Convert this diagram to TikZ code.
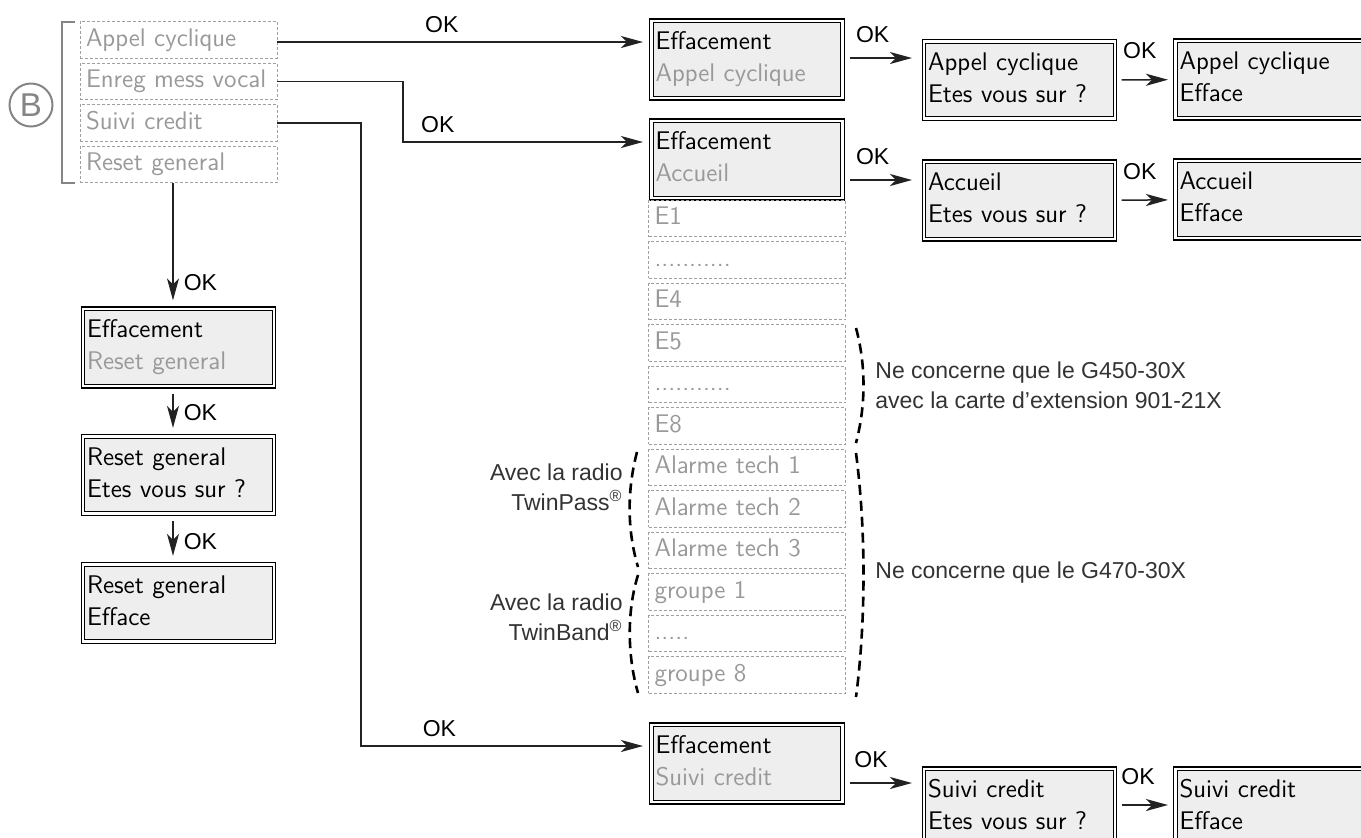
\documentclass[tikz,border=0pt]{standalone}
\usepackage{fontspec}
\setmainfont{Liberation Sans}
\usepackage{tikz}
\usetikzlibrary{shapes.geometric, arrows, arrows.meta, calc, positioning}
\definecolor{txtgray}{HTML}{999999}
\definecolor{dashgray}{HTML}{A0A0A0}
\definecolor{boxfill}{HTML}{EEEEEE}
\definecolor{markgray}{HTML}{858585}
\definecolor{notegray}{HTML}{333333}
\definecolor{linegray}{HTML}{222222}
\newcommand{\boxfont}{\sffamily\fontsize{12.75}{16}\selectfont}
\newcommand{\notefont}{\fontsize{11.5}{15}\selectfont}
\tikzstyle{menu} = [rectangle, draw=dashgray, dash pattern=on 1.5pt off 1pt, line width=0.5pt, minimum height=18.25pt, text width=92.5pt, inner xsep=3pt, inner ysep=0pt, outer sep=0pt, align=left, font=\boxfont, text=txtgray, execute at begin node=\strut]
\tikzstyle{lcd} = [rectangle, draw=black, double=white, line width=0.6pt, double distance=1.2pt, fill=boxfill, minimum height=35pt, text width=91.5pt, inner xsep=2pt, outer sep=0pt, align=left, font=\boxfont, execute at begin node=\strut, execute at end node=\strut]
\tikzstyle{arrow} = [line width=0.75pt, draw=linegray, -{Stealth[length=11pt, width=6pt, inset=3pt]}]
\tikzstyle{ok} = [inner sep=0pt, font=\notefont]
\tikzstyle{note} = [inner sep=0pt, font=\notefont, text=notegray]
\tikzstyle{brace} = [line width=1.3pt, dash pattern=on 5pt off 3pt]

\begin{document}
\begin{tikzpicture}[x=0.5pt, y=-0.5pt, node distance=2.5pt]
	\useasboundingbox (0,0) rectangle (1361,837);
	\clip (0,0) rectangle (1361,837);

	\node (bMark) [circle, draw=markgray, line width=1pt, minimum size=21.5pt, inner sep=0pt, text=markgray, font=\fontsize{16.5}{16.5}\selectfont] at (31,105) {B};
	\node (mAppel) [menu] at (178.5,40) {Appel cyclique};
	\node (mEnreg) [menu, below=of mAppel] {Enreg mess vocal};
	\node (mSuivi) [menu, below=of mEnreg] {Suivi credit};
	\node (mReset) [menu, below=of mSuivi] {Reset general};
	\draw [markgray, line width=1pt] ([xshift=-2.5pt]mAppel.north west) -- ++(-6.5pt,0) |- ([xshift=-2.5pt]mReset.south west);

	\node (effReset) [lcd] at (178.5,347.5) {Effacement\\\textcolor{txtgray}{Reset general}};
	\node (askReset) [lcd] at (178.5,475) {Reset general\\Etes vous sur ?};
	\node (doneReset) [lcd] at (178.5,603) {Reset general\\Efface};
	\draw [arrow, shorten >=4.25pt] ([xshift=-2.75pt]mReset.south) -- node[ok, right=5pt, pos=0.79] {OK} ([xshift=-2.75pt]effReset.north);
	\draw [arrow, shorten <=3.75pt, shorten >=4.25pt] ([xshift=-2.75pt]effReset.south) -- node[ok, right=5pt, pos=0.53] {OK} ([xshift=-2.75pt]askReset.north);
	\draw [arrow, shorten <=3.75pt, shorten >=4.25pt] ([xshift=-2.75pt]askReset.south) -- node[ok, right=5pt, pos=0.55] {OK} ([xshift=-2.75pt]doneReset.north);

	\node (effAppel) [lcd] at (747,59.5) {Effacement\\\textcolor{txtgray}{Appel cyclique}};
	\node (effAcc) [lcd] at (747,159.5) {Effacement\\\textcolor{txtgray}{Accueil}};
	\node (e1) [menu] at (747,218.5) {E1};
	\node (eDotsA) [menu, below=of e1] {...........};
	\node (e4) [menu, below=of eDotsA] {E4};
	\node (e5) [menu, below=of e4] {E5};
	\node (eDotsB) [menu, below=of e5] {...........};
	\node (e8) [menu, below=of eDotsB] {E8};
	\node (tech1) [menu, below=of e8] {Alarme tech 1};
	\node (tech2) [menu, below=of tech1] {Alarme tech 2};
	\node (tech3) [menu, below=of tech2] {Alarme tech 3};
	\node (grp1) [menu, below=of tech3] {groupe 1};
	\node (grpDots) [menu, below=of grp1] {.....};
	\node (grp8) [menu, below=of grpDots] {groupe 8};
	\node (effSuivi) [lcd] at (747,763.5) {Effacement\\\textcolor{txtgray}{Suivi credit}};

	\node (askAppel) [lcd] at (1019.5,80) {Appel cyclique\\Etes vous sur ?};
	\node (doneAppel) [lcd] at (1271,79.5) {Appel cyclique\\Efface};
	\node (askAcc) [lcd] at (1019.5,200.5) {Accueil\\Etes vous sur ?};
	\node (doneAcc) [lcd] at (1271,199.5) {Accueil\\Efface};
	\node (askSuivi) [lcd] at (1019.5,807.5) {Suivi credit\\Etes vous sur ?};
	\node (doneSuivi) [lcd] at (1271,807.5) {Suivi credit\\Efface};

	\coordinate (inAppel) at ([yshift=8.75pt]effAppel.west);
	\coordinate (inAcc) at ([yshift=8.75pt]effAcc.west);
	\coordinate (inSuivi) at ([yshift=8.75pt]effSuivi.west);
	\draw [arrow, shorten >=4.25pt] (mAppel.east |- inAppel) -- node[ok, above=4.5pt, pos=0.44] {OK} (inAppel);
	\draw [arrow, shorten >=4.25pt] (mEnreg.east) -| (403,0 |- inAcc) -- node[ok, above=4.5pt, pos=0.14] {OK} (inAcc);
	\draw [arrow, shorten >=4.25pt] (mSuivi.east) -| (361,0 |- inSuivi) -- node[ok, above=4.5pt, pos=0.27] {OK} (inSuivi);

	\draw [arrow, shorten <=3.75pt, shorten >=6pt] (effAppel.east |- 0,58) -- node[ok, above=7.5pt, pos=0.37] {OK} (askAppel.west |- 0,58);
	\draw [arrow, shorten <=3.75pt, shorten >=6pt] (effAcc.east |- 0,180) -- node[ok, above=7.5pt, pos=0.37] {OK} (askAcc.west |- 0,180);
	\draw [arrow, shorten <=3.75pt, shorten >=6pt] (effSuivi.east |- 0,783) -- node[ok, above=7.5pt, pos=0.35] {OK} (askSuivi.west |- 0,783);
	\draw [arrow, shorten <=3.25pt, shorten >=3.75pt] (askAppel) -- node[ok, above=10pt, pos=0.41] {OK} (doneAppel);
	\draw [arrow, shorten <=3.25pt, shorten >=3.75pt] (askAcc) -- node[ok, above=10pt, pos=0.41] {OK} (doneAcc);
	\draw [arrow, shorten <=3.25pt, shorten >=3.75pt] ([yshift=1.25pt]askSuivi.east) -- node[ok, above=10pt, pos=0.38] {OK} ([yshift=1.25pt]doneSuivi.west);

	\draw [brace] (856,328) .. controls (866,365) and (866,405) .. (856,443);
	\draw [brace] (856,453) .. controls (866,530) and (866,620) .. (856,697);
	\draw [brace] (637,452) .. controls (627,490) and (627,530) .. (638,567);
	\draw [brace] (638,575) .. controls (627,610) and (627,655) .. (638,693);
	\node (noteExt) [note, anchor=west, align=left] at (875,385) {Ne concerne que le G450-30X\\avec la carte d’extension 901-21X};
	\node (noteG470) [note, anchor=west] at (875,573) {Ne concerne que le G470-30X};
	\node (notePass) [note, anchor=east, align=right] at (623,487) {Avec la radio\\TwinPass\textsuperscript{®}};
	\node (noteBand) [note, anchor=east, align=right] at (623,617) {Avec la radio\\TwinBand\textsuperscript{®}};
\end{tikzpicture}
\end{document}
